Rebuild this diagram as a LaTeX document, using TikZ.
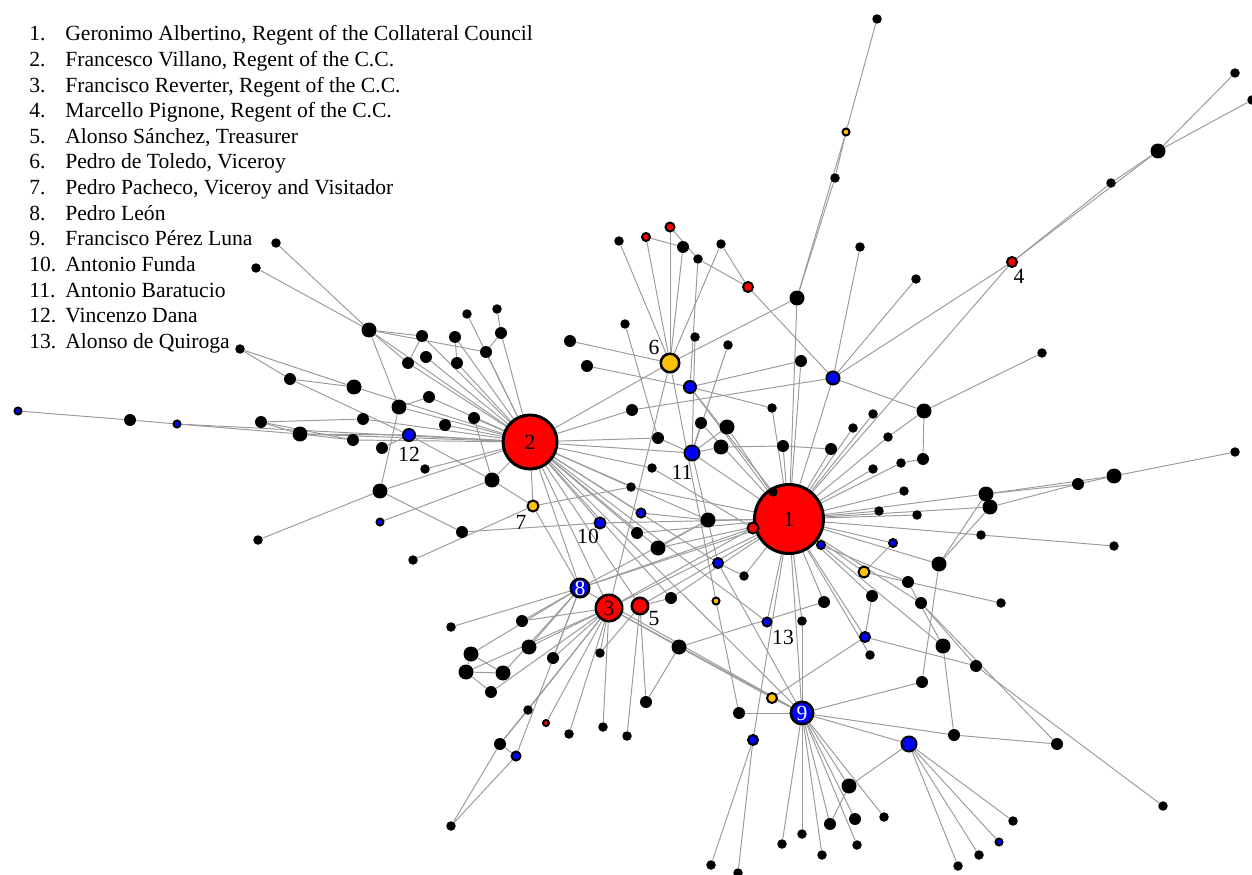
\documentclass[tikz,border=0pt]{standalone}
\usepackage{fontspec}
\setmainfont{Liberation Serif}
\usepackage{tikz}
\usetikzlibrary{backgrounds}
\definecolor{netred}{HTML}{FF0000}
\definecolor{netblue}{HTML}{0000FF}
\definecolor{netgold}{HTML}{FFC107}
\definecolor{netedge}{HTML}{9A9A9A}
\newcommand{\numfont}{\fontsize{12.3}{14}\selectfont}
\tikzset{
  dot/.style={circle, fill=black, inner sep=0pt, minimum size=0.19cm},
  mdot/.style={dot, minimum size=0.24cm},
  bdot/.style={dot, minimum size=0.30cm},
  ring/.style={circle, draw=black, line width=0.04cm, inner sep=0pt},
  midring/.style={ring, line width=0.05cm, font=\numfont},
  hub/.style={ring, line width=0.06cm, font=\numfont},
  tie/.style={draw=netedge, line width=0.55pt},
  numlbl/.style={inner sep=0pt, font=\numfont},
  legtxt/.style={anchor=base west, inner sep=0pt, font=\numfont},
}

\begin{document}
\begin{tikzpicture}[x=0.02cm, y=-0.02cm]
  \useasboundingbox (0,0) rectangle (1252,875);

  % legend
  \foreach \i/\who in {1/{Geronimo Albertino, Regent of the Collateral Council},
      2/{Francesco Villano, Regent of the C.C.}, 3/{Francisco Reverter, Regent of the C.C.},
      4/{Marcello Pignone, Regent of the C.C.}, 5/{Alonso Sánchez, Treasurer},
      6/{Pedro de Toledo, Viceroy}, 7/{Pedro Pacheco, Viceroy and Visitador},
      8/{Pedro León}, 9/{Francisco Pérez Luna}, 10/{Antonio Funda},
      11/{Antonio Baratucio}, 12/{Vincenzo Dana}, 13/{Alonso de Quiroga}}{
    \pgfmathsetmacro\yy{41+25.6*(\i-1)}
    \node[legtxt] (num\i) at (29,\yy) {\i.};
    \node[legtxt] (leg\i) at (65,\yy) {\who};
  }

  % labelled actors
  \node[hub, fill=netred, minimum size=1.38cm] (p1) at (789,519) {1};
  \node[hub, fill=netred, minimum size=1.08cm] (p2) at (530,442) {2};
  \node[midring, fill=netred, minimum size=0.53cm] (p3) at (609,608) {3};
  \node[midring, fill=netred, minimum size=0.33cm] (p5) at (640,606) {};
  \node[midring, fill=netblue, minimum size=0.37cm, text=white] (p8) at (580,588) {8};
  \node[midring, fill=netblue, minimum size=0.45cm, text=white] (p9) at (802,713) {9};
  \node[midring, fill=netgold, minimum size=0.37cm] (p6) at (670,363) {};
  \foreach \n/\x/\y/\c/\s in {p11/692/453/netblue/0.30, p4/1012/262/netred/0.20,
      p7/533/506/netgold/0.22, p10/600/523/netblue/0.22, p12/409/435/netblue/0.24,
      p13/767/622/netblue/0.18}
    \node[ring, fill=\c, minimum size=\s cm] (\n) at (\x,\y) {};
  \node[numlbl] (l4) at (1019,276) {4};
  \node[numlbl] (l5) at (654,619) {5};
  \node[numlbl] (l6) at (654,347) {6};
  \node[numlbl] (l7) at (521,522) {7};
  \node[numlbl] (l10) at (588,536) {10};
  \node[numlbl] (l11) at (682,472) {11};
  \node[numlbl] (l12) at (409,454) {12};
  \node[numlbl] (l13) at (783,637) {13};

  % other coloured actors
  \foreach \n/\x/\y/\c/\s in {b1/909/744/netblue/0.30, b2/833/378/netblue/0.26,
      b3/690/387/netblue/0.24, b4/865/637/netblue/0.20, b5/753/740/netblue/0.20,
      b6/718/563/netblue/0.20, b7/641/513/netblue/0.18, b8/821/545/netblue/0.16,
      b9/893/543/netblue/0.16, b10/516/756/netblue/0.18, b11/380/522/netblue/0.14,
      b12/18/411/netblue/0.14, b13/177/424/netblue/0.14, b14/999/842/netblue/0.14,
      y1/864/572/netgold/0.22, y2/772/698/netgold/0.20, y3/716/601/netgold/0.14,
      y4/846/132/netgold/0.14, r1/670/227/netred/0.18, r2/646/237/netred/0.16,
      r3/748/287/netred/0.20, r4/753/528/netred/0.22, r5/546/723/netred/0.12}
    \node[ring, fill=\c, minimum size=\s cm] (\n) at (\x,\y) {};

  % black actors, by size
  \foreach \n/\x/\y in {k1/276/243, k2/256/268, k6/467/314, k7/497/309, k13/240/349,
      k25/425/469, k28/258/540, k30/413/560, k32/619/241, k34/721/244, k35/698/259,
      k37/625/324, k38/695/337, k39/728/345, k44/772/408, k51/652/468, k52/631/487,
      k53/773/492, k54/860/247, k55/877/19, k56/835/178, k58/916/279, k59/1111/183,
      k61/1235/73, k62/1252/100, k63/1042/353, k65/873/414, k66/853/428, k67/888/437,
      k69/901/463, k70/873/469, k71/904/491, k72/879/511, k73/917/515, k78/1235/452,
      k79/981/535, k80/1114/546, k83/1001/603, k88/870/655, k93/744/576, k96/802/621,
      k97/451/627, k105/600/653, k108/528/710, k109/569/734, k110/603/727,
      k111/627/736, k113/451/826, k120/884/817, k121/802/834, k122/782/844,
      k123/822/855, k124/857/845, k125/1013/821, k126/979/855, k127/958/866,
      k128/711/865, k129/738/873, k130/1163/806}
    \node[dot] (\n) at (\x,\y) {};
  \foreach \n/\x/\y in {k4/422/336, k5/455/337, k8/501/333, k9/486/352, k10/426/357,
      k11/408/363, k12/457/363, k14/290/379, k17/429/397, k18/261/422, k19/363/419,
      k20/445/425, k21/474/418, k23/353/440, k24/382/448, k29/462/532, k31/130/420,
      k33/683/247, k40/570/341, k41/587/366, k42/801/361, k43/632/410, k45/701/423,
      k47/658/438, k49/783/446, k50/831/449, k68/923/459, k76/1078/484, k82/908/582,
      k84/872/596, k85/921/603, k87/976/666, k89/922/682, k91/637/533, k94/671/598,
      k95/824/602, k98/522/621, k103/491/692, k104/553/658, k107/646/702,
      k112/500/744, k114/739/713, k115/954/735, k116/1057/744, k118/830/824,
      k119/855/819}
    \node[mdot] (\n) at (\x,\y) {};
  \foreach \n/\x/\y in {k3/369/330, k15/354/387, k16/399/407, k22/300/434, k26/380/491,
      k27/492/480, k36/797/298, k46/727/427, k48/721/447, k60/1158/151, k64/924/411,
      k74/986/494, k75/990/507, k77/1114/476, k81/939/564, k86/943/646, k90/708/520,
      k92/658/548, k99/471/654, k100/529/647, k101/466/672, k102/503/673,
      k106/679/647, k117/849/786}
    \node[bdot] (\n) at (\x,\y) {};

  % ties
  \begin{scope}[on background layer]
    % left cluster
    \foreach \a/\b in {k1/k3, k2/k3, k3/k4, k3/k11, k3/p2, k3/k16, k3/k9, k4/k11,
        k4/p2, k5/k12, k5/p2, k6/p2, k7/k8, k8/k9, k8/p2, k9/p2, k10/p2, k11/p2,
        k12/p2, k13/k14, k13/k15, k14/k15, k14/p12, k15/p2, k16/k17, k16/k26,
        k16/p2, k17/p2, k18/k19, k18/k22, k18/k23, k19/p2, k20/p2, k21/p2, k21/k27,
        k22/p2, k22/k23, k22/p12, k23/p2, k24/p12, p12/p2, p12/k27, k25/p2, k26/p2,
        k28/k26, k26/k29, k29/p10, b11/k27, k27/p2, k27/p7, p7/p2, k30/p7, p7/p8,
        p7/k52, b12/k31, k31/b13, b13/k22, b13/p2}
      \draw[tie] (\a) -- (\b);
    % top
    \foreach \a/\b in {p6/k32, p6/r2, p6/r1, p6/k33, p6/k34, p6/k36, p6/k40, p6/p2,
        p6/p3, p6/y3, r1/k35, r2/k33, k35/r3, k34/r3, k35/b3, r3/b2, k37/k47,
        k38/p11, k39/p11, k41/b3, b3/k44, b3/p1, b3/k42, k36/p1, k42/p1, k43/b2,
        k43/p2, b2/p1, b2/k54, k45/p11, k46/p11, k48/p11, k47/p11, k48/k49, k49/k50,
        k44/p1, k46/p1, k45/p1, k49/p1, k50/p1, k47/p2, k55/y4, y4/k56, k56/k36,
        y4/k36, k58/b2, p4/k59, k59/k60, p4/k60, k60/k61, k60/k62, p4/p1, p4/b2,
        k63/k64, k53/p1, k53/b3}
      \draw[tie] (\a) -- (\b);
    % right
    \foreach \a/\b in {b2/k64, k64/k68, k64/k67, k67/p1, k68/k69, k69/p1, k65/p1,
        k66/p1, k70/p1, k71/p1, k72/p1, k73/p1, p1/k74, p1/k75, p1/k79, k79/k80,
        k74/k76, k74/k77, k75/k76, k76/k77, k77/k78, k81/k74, k81/k75, k81/k89,
        p1/k81, b9/y1, y1/k82, k82/k83, y1/p1, b9/p1, b8/p1, b8/k82, k82/k86,
        k85/k87, b4/k87, k84/b4, k86/k115, p1/k85, p1/k86, k85/k116, k87/k130,
        k84/p1, k88/p1, b4/p1, k95/p1, k96/p1}
      \draw[tie] (\a) -- (\b);
    % centre
    \foreach \a/\b in {k90/p1, k90/b7, k90/k92, k90/p8, k90/p2, k51/p2, k51/r4,
        k52/p2, k52/p1, b7/p2, k91/p2, k91/p1, k92/p1, k92/p2, p10/p2, p10/p1,
        k93/p1, k93/b6, b6/p2, b6/p11, y3/k114, k94/p1, k94/p5, p5/p1, p3/p1,
        p8/p1, r4/p1, r4/p3, r4/p8, p11/p1, p11/p2, p2/p3, p2/p8, p2/p5, p2/k94,
        p2/p9, p13/p1, p13/p2}
      \draw[tie] (\a) -- (\b);
    % lower left
    \foreach \a/\b in {p8/k97, p8/k99, p8/k100, p8/k102, p8/k104, p8/b10, p8/k98,
        p3/k98, p3/k100, p3/k101, p3/k103, p3/k108, p3/r5, p3/k109, p3/k112,
        p3/k104, p3/k105, p3/k110, p5/k105, p5/k107, p5/k111, k99/k102, k101/k102,
        k101/k103, k99/k101, k112/k108, k112/k113, b10/k113, k112/b10, k106/p3,
        k106/k107, k106/k95, k106/y2, p3/p9}
      \draw[tie] (\a) -- (\b);
    % lower right
    \foreach \a/\b in {p9/k114, p9/y2, p9/k96, p9/b1, p9/k115, p9/k89, k115/k116,
        p9/k117, p9/k118, p9/k119, p9/k120, p9/k121, p9/k122, p9/k123, p9/k124,
        k117/b1, k117/k118, b1/k127, b1/k126, b1/b14, b1/k125, b5/k128, b5/k129,
        b5/p1, y2/b4, b6/p9, p8/p9, p9/p1}
      \draw[tie] (\a) -- (\b);
  \end{scope}
\end{tikzpicture}
\end{document}
